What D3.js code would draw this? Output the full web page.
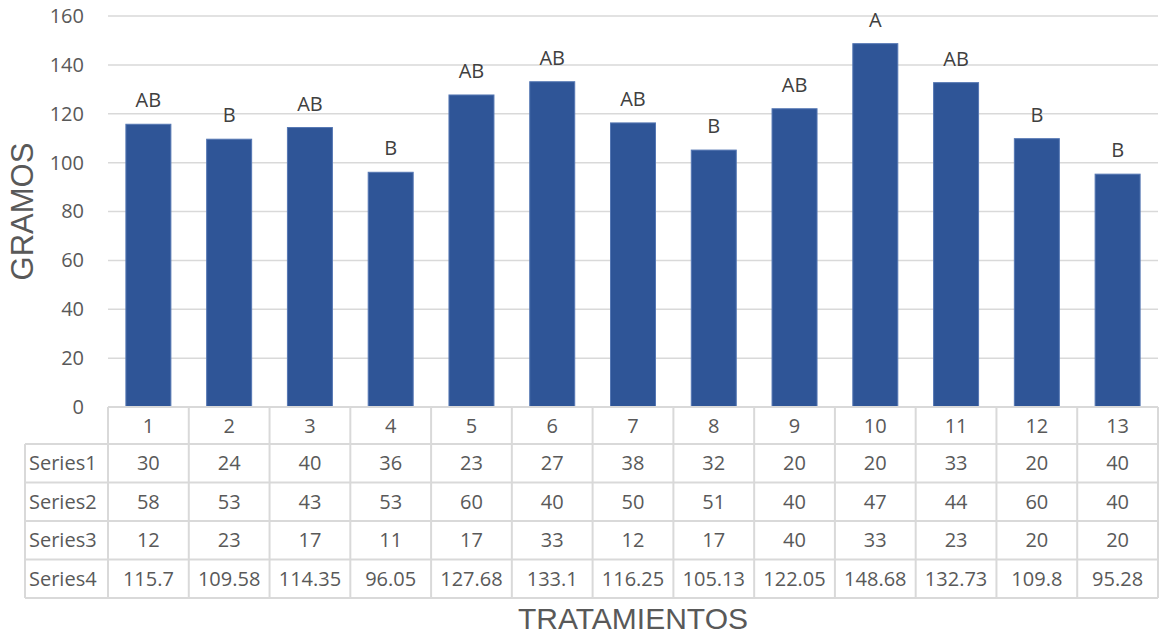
<!DOCTYPE html>
<html>
<head>
<meta charset="utf-8">
<script src="https://cdn.jsdelivr.net/npm/d3@7/dist/d3.min.js"></script>
<style>
  html, body { margin: 0; padding: 0; background: #ffffff; }
  svg { display: block; }
</style>
</head>
<body>
<svg id="chart" width="1159" height="637"></svg>
<script>
// Treatment numbers along the x axis
const categories = ["1","2","3","4","5","6","7","8","9","10","11","12","13"];
// Data-table series
const series1 = [30, 24, 40, 36, 23, 27, 38, 32, 20, 20, 33, 20, 40];
const series2 = [58, 53, 43, 53, 60, 40, 50, 51, 40, 47, 44, 60, 40];
const series3 = [12, 23, 17, 11, 17, 33, 12, 17, 40, 33, 23, 20, 20];
// Series4 is plotted as the bars (grams)
const series4 = [115.7, 109.58, 114.35, 96.05, 127.68, 133.1, 116.25, 105.13, 122.05, 148.68, 132.73, 109.8, 95.28];
// Significance letters above each bar
const groupLetters = ["AB","B","AB","B","AB","AB","AB","B","AB","A","AB","B","B"];
const seriesNames = ["Series1","Series2","Series3","Series4"];
const yTicks = [0, 20, 40, 60, 80, 100, 120, 140, 160];

const tableRows = [series1, series2, series3, series4];

const svg = d3.select("#chart");
const plot = { left: 108, right: 1158, top: 16, bottom: 407 };
const numFont = "'Open Sans', 'Noto Sans', sans-serif";
const titleFont = "'Liberation Sans', Arial, sans-serif";
const gridColor = "#d9d9d9";
const textColor = "#595959";
const fs = 20;

const x = d3.scaleBand()
  .domain(categories)
  .range([plot.left, plot.right])
  .paddingInner(0.443)
  .paddingOuter(0.2215);

const xCol = d3.scaleBand()
  .domain(categories)
  .range([plot.left, plot.right]);

const y = d3.scaleLinear()
  .domain([0, 160])
  .range([plot.bottom, plot.top]);

// Horizontal gridlines
svg.append("g")
  .selectAll("line")
  .data(yTicks.filter(d => d > 0))
  .join("line")
  .attr("x1", plot.left)
  .attr("x2", plot.right)
  .attr("y1", d => y(d))
  .attr("y2", d => y(d))
  .attr("stroke", gridColor)
  .attr("stroke-width", 1.5);

// Y axis tick labels
const yAxis = d3.axisLeft(y).tickValues(yTicks).tickSize(0).tickPadding(24);
const yg = svg.append("g").attr("transform", `translate(${plot.left},0)`).call(yAxis);
yg.select(".domain").remove();
yg.selectAll("text")
  .attr("font-family", numFont)
  .attr("font-size", fs)
  .attr("fill", textColor);

// Bars
svg.append("g")
  .selectAll("rect")
  .data(series4)
  .join("rect")
  .attr("x", (d, i) => x(categories[i]))
  .attr("width", x.bandwidth())
  .attr("y", d => y(d))
  .attr("height", d => y(0) - y(d))
  .attr("fill", "#2f5597")
  .attr("stroke", "#5577b3")
  .attr("stroke-width", 1);

// Letters above bars
svg.append("g")
  .selectAll("text")
  .data(series4)
  .join("text")
  .attr("x", (d, i) => x(categories[i]) + x.bandwidth() / 2)
  .attr("y", d => y(d) - 17)
  .attr("text-anchor", "middle")
  .attr("font-family", numFont)
  .attr("font-size", fs)
  .attr("fill", "#404040")
  .text((d, i) => groupLetters[i]);

// Data table below the plot
const headerTop = plot.bottom;
const headerH = 37;
const rowH = 38.5;
const labelLeft = 25;
const tableBottom = headerTop + headerH + rowH * tableRows.length;
const table = svg.append("g");

// Horizontal table lines
const hLines = [headerTop, headerTop + headerH];
tableRows.forEach((r, i) => hLines.push(headerTop + headerH + rowH * (i + 1)));
table.selectAll("line.h")
  .data(hLines)
  .join("line")
  .attr("class", "h")
  .attr("x1", (d, i) => i === 0 ? plot.left : labelLeft)
  .attr("x2", plot.right)
  .attr("y1", d => d)
  .attr("y2", d => d)
  .attr("stroke", gridColor)
  .attr("stroke-width", 2);

// Vertical table lines
const vLines = categories.map(c => xCol(c)).concat([plot.right]);
table.selectAll("line.v")
  .data(vLines)
  .join("line")
  .attr("class", "v")
  .attr("x1", d => d)
  .attr("x2", d => d)
  .attr("y1", headerTop)
  .attr("y2", tableBottom)
  .attr("stroke", gridColor)
  .attr("stroke-width", 2);
table.append("line")
  .attr("x1", labelLeft).attr("x2", labelLeft)
  .attr("y1", headerTop + headerH).attr("y2", tableBottom)
  .attr("stroke", gridColor).attr("stroke-width", 2);

// Category header
table.selectAll("text.cat")
  .data(categories)
  .join("text")
  .attr("class", "cat")
  .attr("x", d => xCol(d) + xCol.bandwidth() / 2)
  .attr("y", headerTop + headerH / 2)
  .attr("dy", "0.36em")
  .attr("text-anchor", "middle")
  .attr("font-family", numFont)
  .attr("font-size", fs)
  .attr("fill", textColor)
  .text(d => d);

// Series rows
tableRows.forEach((row, r) => {
  const cy = headerTop + headerH + rowH * r + rowH / 2;
  table.append("text")
    .attr("x", labelLeft + 4)
    .attr("y", cy)
    .attr("dy", "0.36em")
    .attr("font-family", numFont)
    .attr("font-size", fs)
    .attr("fill", textColor)
    .text(seriesNames[r]);
  table.selectAll(`text.r${r}`)
    .data(row)
    .join("text")
    .attr("class", `r${r}`)
    .attr("x", (d, i) => xCol(categories[i]) + xCol.bandwidth() / 2)
    .attr("y", cy)
    .attr("dy", "0.36em")
    .attr("text-anchor", "middle")
    .attr("font-family", numFont)
    .attr("font-size", fs)
    .attr("fill", textColor)
    .text(d => d);
});

// Axis titles
svg.append("text")
  .attr("x", (plot.left + plot.right) / 2)
  .attr("y", 629)
  .attr("text-anchor", "middle")
  .attr("font-family", titleFont)
  .attr("font-size", 30)
  .attr("fill", textColor)
  .text("TRATAMIENTOS");

svg.append("text")
  .attr("transform", `translate(33,${(plot.top + plot.bottom) / 2}) rotate(-90)`)
  .attr("text-anchor", "middle")
  .attr("font-family", titleFont)
  .attr("font-size", 31)
  .attr("fill", textColor)
  .text("GRAMOS");
</script>
</body>
</html>
